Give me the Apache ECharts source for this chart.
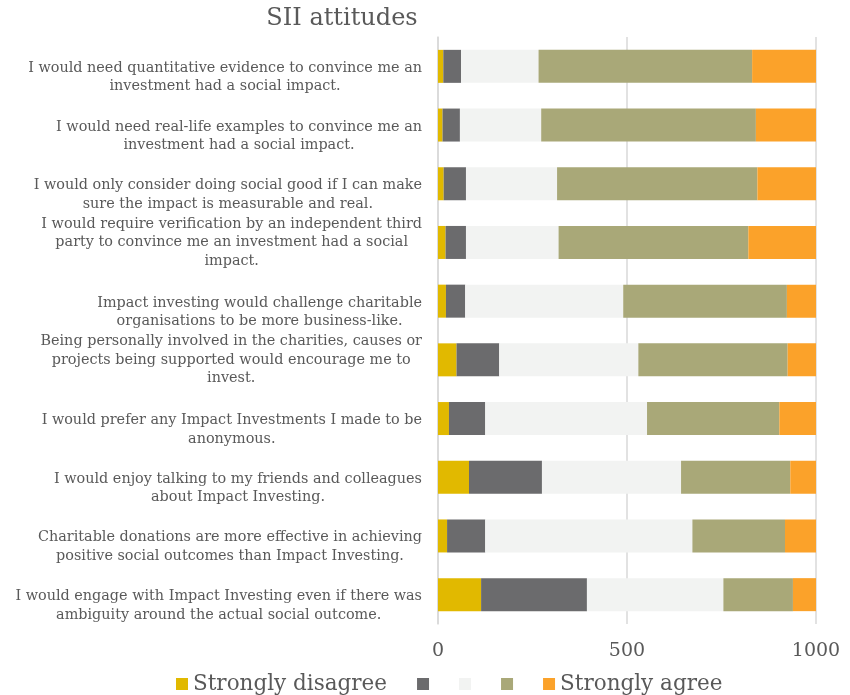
<!DOCTYPE html>
<html>
<head>
<meta charset="utf-8">
<script src="https://cdn.jsdelivr.net/npm/echarts@6/dist/echarts.min.js"></script>
<style>
  html, body { margin: 0; padding: 0; background: #ffffff; }
  #chart { width: 850px; height: 695px; }
</style>
</head>
<body>
<div id="chart"></div>
<script>
// Survey statements, top to bottom
const statements = [
  "I would need quantitative evidence to convince me an\ninvestment had a social impact.",
  "I would need real-life examples to convince me an\ninvestment had a social impact.",
  "I would only consider doing social good if I can make\nsure the impact is measurable and real.",
  "I would require verification by an independent third\nparty to convince me an investment had a social\nimpact.",
  "Impact investing would challenge charitable\norganisations to be more business-like.",
  "Being personally involved in the charities, causes or\nprojects being supported would encourage me to\ninvest.",
  "I would prefer any Impact Investments I made to be\nanonymous.",
  "I would enjoy talking to my friends and colleagues\nabout Impact Investing.",
  "Charitable donations are more effective in achieving\npositive social outcomes than Impact Investing.",
  "I would engage with Impact Investing even if there was\nambiguity around the actual social outcome."
];

// Response counts per statement
const stronglyDisagree = [14, 12, 15, 20, 21, 49, 29, 82, 24, 114];
const disagree         = [47, 46, 59, 54, 51, 113, 96, 193, 101, 280];
const neutral          = [205, 215, 241, 245, 418, 368, 428, 368, 548, 361];
const agree            = [565, 568, 530, 502, 433, 395, 350, 289, 245, 184];
const stronglyAgree    = [169, 159, 155, 179, 77, 75, 97, 68, 82, 61];

// Series keys and the text shown for them in the legend
const seriesKeys   = ["Strongly disagree", "Disagree", "Neutral", "Agree", "Strongly agree"];
const legendLabels = ["Strongly disagree", "", "", "", "Strongly agree"];
const seriesValues = [stronglyDisagree, disagree, neutral, agree, stronglyAgree];
const palette      = ["#E1B900", "#6B6B6D", "#F2F3F2", "#A9A878", "#FBA22A"];

const FONT = "DejaVu Serif";
const TEXT = "#595959";
const LABEL_SIZE = 14.4;
const LABEL_LINE = 18.5;

// Two-line statements sit a little lower, as if a blank line were reserved above them
const categoryData = statements.map(s => {
  const lines = s.split("\n").length;
  return lines < 3 ? { value: s, textStyle: { padding: [22, 0, 0, 0] } } : { value: s };
});

const chart = echarts.init(document.getElementById("chart"), null, { renderer: "canvas" });

chart.setOption({
  animation: false,
  backgroundColor: "#ffffff",
  textStyle: { fontFamily: FONT, color: TEXT },
  title: {
    text: "SII attitudes",
    left: 337,
    textAlign: "center",
    top: 2,
    textStyle: { fontFamily: FONT, fontSize: 24, fontWeight: "normal", color: TEXT }
  },
  legend: {
    data: seriesKeys,
    left: 176,
    top: 673,
    padding: 0,
    itemWidth: 12,
    itemHeight: 12,
    itemGap: 30,
    icon: "rect",
    formatter: name => legendLabels[seriesKeys.indexOf(name)],
    textStyle: { fontFamily: FONT, fontSize: 21.5, color: TEXT }
  },
  grid: { left: 438, right: 34, top: 37, bottom: 71, containLabel: false },
  xAxis: {
    type: "value",
    min: 0,
    max: 1000,
    interval: 500,
    axisLine: { show: false },
    axisTick: { show: false },
    splitLine: { show: true, lineStyle: { color: "#D9D9D9", width: 1.5 } },
    axisLabel: {
      fontFamily: FONT, fontSize: 19, color: TEXT, margin: 18,
      formatter: v => String(v)
    }
  },
  yAxis: {
    type: "category",
    inverse: true,
    data: categoryData,
    axisLine: { show: true, lineStyle: { color: "#D9D9D9", width: 1.5 } },
    axisTick: { show: false },
    axisLabel: {
      interval: 0,
      showMinLabel: true,
      showMaxLabel: true,
      hideOverlap: false,
      margin: 16,
      fontFamily: FONT,
      fontSize: LABEL_SIZE,
      color: TEXT,
      lineHeight: LABEL_LINE,
      formatter: v => v.split("\n").map(l => "{c|" + l + "}").join("\n"),
      rich: {
        c: { align: "center", fontFamily: FONT, fontSize: LABEL_SIZE, color: TEXT, lineHeight: LABEL_LINE }
      }
    }
  },
  series: seriesKeys.map((key, i) => ({
    name: key,
    type: "bar",
    stack: "total",
    barWidth: 33,
    data: seriesValues[i],
    itemStyle: { color: palette[i] },
    emphasis: { disabled: true }
  }))
});
</script>
</body>
</html>
